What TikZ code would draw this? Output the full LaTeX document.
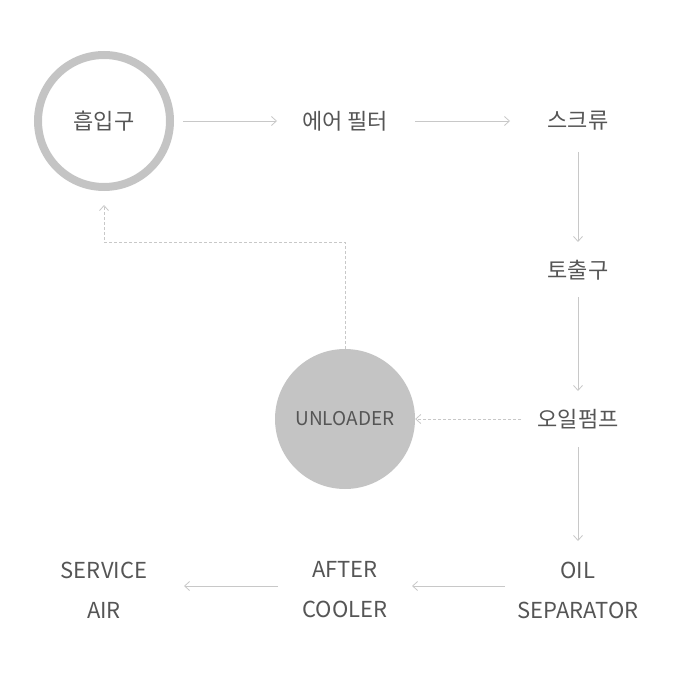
\documentclass[tikz,border=0pt]{standalone}
\usepackage{fontspec}
\setmainfont{Noto Sans CJK KR}
\usetikzlibrary{arrows.meta}
\definecolor{txtgray}{HTML}{555555}
\definecolor{ringgray}{HTML}{C4C4C4}
\definecolor{linegray}{HTML}{C8C8C8}
\tikzset{
  lbl/.style={text=txtgray, font=\fontsize{22}{40}\selectfont, align=center},
  flow/.style={draw=linegray, line width=0.8pt, -{Straight Barb[length=5pt,width=9pt]}},
  back/.style={flow, dashed, dash pattern=on 3pt off 2pt}
}
\begin{document}
\begin{tikzpicture}[x=1pt,y=-1pt]
\useasboundingbox (0,0) rectangle (690,700);

\node[lbl, circle, draw=ringgray, line width=8pt, minimum size=132pt] (intake) at (104,121) {흡입구};
\node[lbl] (filter) at (345,121) {에어 필터};
\node[lbl] (screw) at (578,121) {스크류};
\node[lbl] (outlet) at (578,270) {토출구};
\node[lbl] (pump) at (578,419) {오일펌프};
\node[lbl, circle, fill=ringgray, minimum size=140pt, font=\fontsize{19}{22}\selectfont] (unloader) at (345,419) {UNLOADER};
\node[lbl] (oilsep) at (578,590) {OIL\\SEPARATOR};
\node[lbl] (cooler) at (345,590) {AFTER\\COOLER};
\node[lbl] (service) at (104,590) {SERVICE\\AIR};

\coordinate (u1) at (345,242);
\coordinate (u2) at (104,242);

\draw[flow] (183,121) -- (277,121);
\draw[flow] (415,121) -- (510,121);
\draw[flow] (578,152) -- (578,242);
\draw[flow] (578,297) -- (578,391);
\draw[flow] (578,447) -- (578,541);
\draw[flow] (505,586) -- (412,586);
\draw[flow] (278,586) -- (184,586);
\draw[back] (521,419) -- (unloader.east);
\draw[back] (unloader.north) -- (u1) -- (u2) -- (104,205);
\end{tikzpicture}
\end{document}
